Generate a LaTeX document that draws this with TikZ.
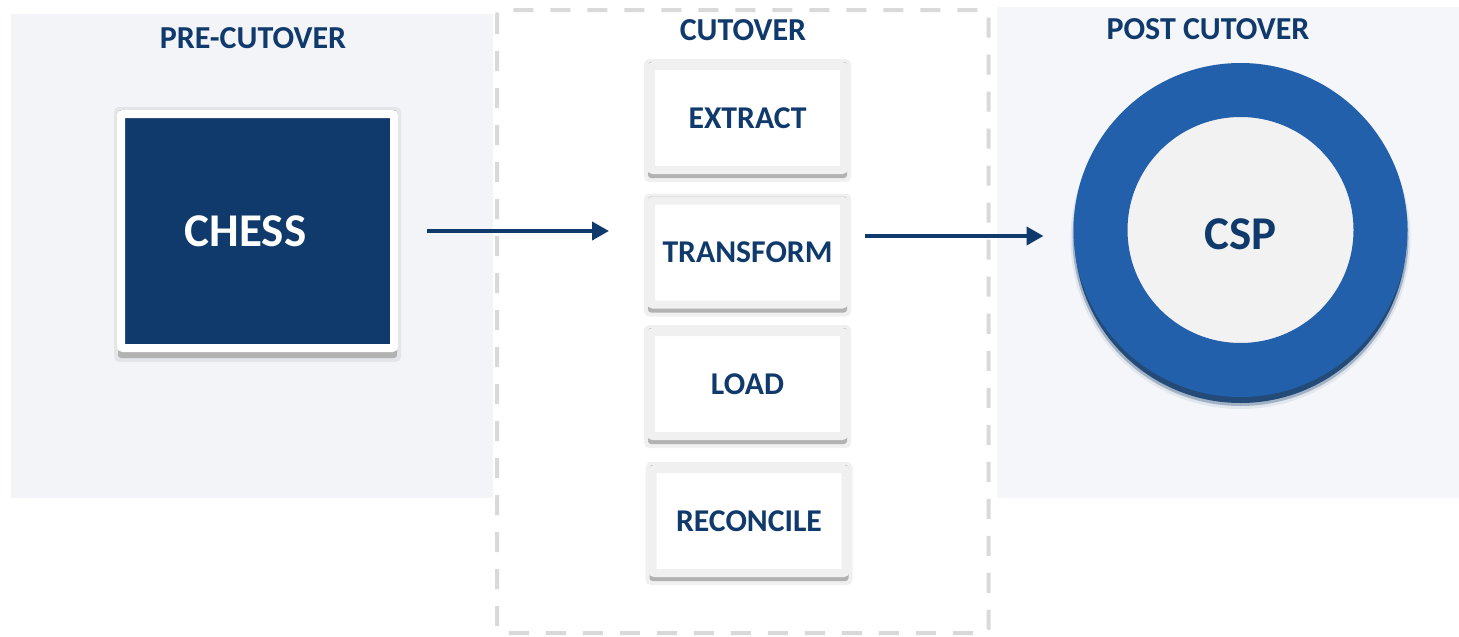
\documentclass[tikz,border=0pt]{standalone}
\usepackage{fontspec}
\setmainfont{Carlito}
\usetikzlibrary{arrows.meta}
\definecolor{navy}{HTML}{0F3A6B}
\definecolor{ringblue}{HTML}{2360AC}
\definecolor{innergray}{HTML}{F2F2F2}
\definecolor{boxgray}{HTML}{F0F0F0}
\definecolor{panelL}{HTML}{F3F4F8}
\definecolor{panelR}{HTML}{F5F6FA}
\definecolor{dashgray}{HTML}{D9D9D9}
\pgfdeclarelayer{back}
\pgfdeclarelayer{shadowlayer}
\pgfsetlayers{back,shadowlayer,main}
\tikzset{
  hdr/.style={inner sep=0pt, text=navy, font=\fontsize{32}{38}\selectfont\bfseries},
  chessbox/.style={fill=navy, draw=white, line width=8pt, rounded corners=2pt,
    minimum width=273pt, minimum height=234pt, inner sep=0pt, text=white,
    font=\fontsize{47}{56}\selectfont\bfseries},
  stepbox/.style={fill=white, draw=boxgray, line width=8pt, rounded corners=2pt,
    minimum width=193pt, minimum height=104pt, inner sep=0pt, text=navy,
    font=\fontsize{31.7}{38}\selectfont\bfseries},
  cspnode/.style={circle, fill=innergray, draw=ringblue, line width=54pt,
    minimum size=280pt, inner sep=0pt, text=navy,
    font=\fontsize{47}{56}\selectfont\bfseries},
  arr/.style={draw=navy, line width=4pt, -{Triangle[length=17pt,width=18pt]}},
  dashbox/.style={draw=dashgray, line width=4pt, dash pattern=on 20pt off 17pt, rounded corners=4pt},
  softshadow/.style={fill=black, opacity=0.06, rounded corners=5pt},
  hardshadow/.style={fill=gray!60, rounded corners=3pt}
}
\begin{document}
\begin{tikzpicture}[x=1pt,y=-1pt]
\useasboundingbox (0,0) rectangle (1459,637);
\begin{pgfonlayer}{back}
  \fill[white] (0,0) rectangle (1459,637);
  \fill[panelL] (11,14) rectangle (493,498);
  \fill[panelR] (997,7) rectangle (1459,498);
  \draw[dashbox] (497,10) rectangle (988.5,633);
\end{pgfonlayer}

\node[hdr] (hpre) at (253,38) {PRE-CUTOVER};
\node[hdr] (hcut) at (743,30) {CUTOVER};
\node[hdr] (hpost) at (1208,29) {POST CUTOVER};

\node[chessbox] (chess) at (257.5,231) {CHESS\kern24pt};

\node[stepbox] (ex) at (747.5,118) {EXTRACT};
\node[stepbox] (tr) at (747.5,252.5) {TRANSFORM};
\node[stepbox] (ld) at (747.5,384) {LOAD};
\node[stepbox] (rc) at (749,521) {RECONCILE};

\node[cspnode] (csp) at (1240.5,230) {\rule{0pt}{40pt}CSP};

\begin{pgfonlayer}{shadowlayer}
  \fill[softshadow] ([xshift=-3pt,yshift=3pt]chess.north west) rectangle ([xshift=3pt,yshift=-10pt]chess.south east);
  \fill[hardshadow] ([xshift=1pt]chess.north west) rectangle ([xshift=-1pt,yshift=-6pt]chess.south east);
  \foreach \n in {ex,tr,ld,rc}{
    \fill[softshadow] ([xshift=-3pt,yshift=3pt]\n.north west) rectangle ([xshift=3pt,yshift=-8pt]\n.south east);
    \fill[hardshadow] ([xshift=1pt]\n.north west) rectangle ([xshift=-1pt,yshift=-4pt]\n.south east);
  }
  \fill[navy, opacity=0.08] ([yshift=-9pt]csp.center) circle (170pt);
  \fill[navy, opacity=0.3] ([yshift=-8pt]csp.center) circle (168pt);
  \fill[navy, opacity=0.85] ([yshift=-7pt]csp.center) circle (166pt);
\end{pgfonlayer}

\draw[arr, shorten <=29pt, shorten >=38pt] (chess.east) -- (chess.east -| tr.west);
\draw[arr, shorten <=17pt, shorten >=30pt] ([yshift=16.5pt]tr.east) -- ([yshift=16.5pt]tr.east -| csp.west);
\end{tikzpicture}
\end{document}
